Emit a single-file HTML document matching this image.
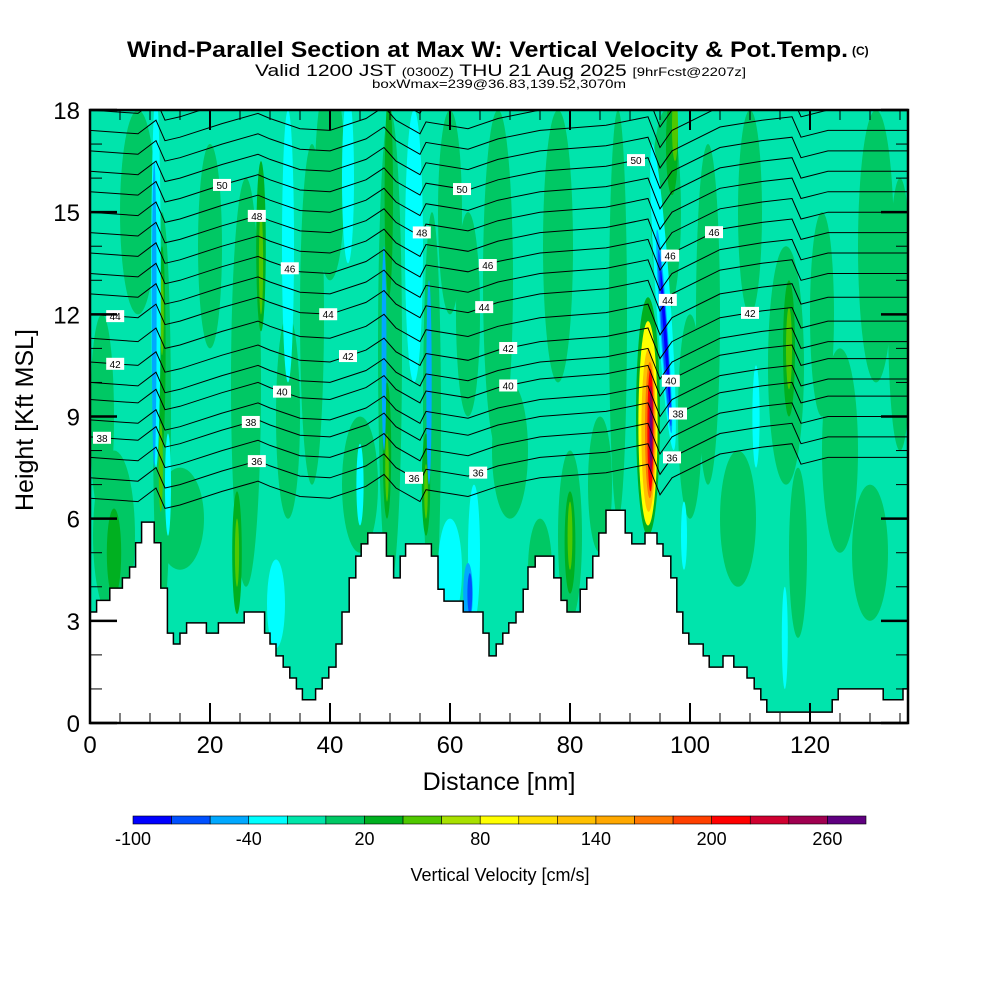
<!DOCTYPE html>
<html><head><meta charset="utf-8"><style>
html,body{margin:0;padding:0;background:#fff;}
svg{display:block;font-family:"Liberation Sans",sans-serif;}
</style></head><body>
<svg id="chart" width="1000" height="1000" viewBox="0 0 1000 1000" xmlns="http://www.w3.org/2000/svg">
<defs><clipPath id="plotclip"><rect x="90" y="110" width="818" height="613"/></clipPath></defs>
<g>
<text x="127" y="57" font-size="22" font-weight="bold" textLength="721" lengthAdjust="spacingAndGlyphs">Wind-Parallel Section at Max W: Vertical Velocity &amp; Pot.Temp.</text>
<text x="852" y="55" font-size="12" font-weight="bold">(C)</text>
<text x="255" y="76" font-size="17" textLength="491" lengthAdjust="spacingAndGlyphs">Valid 1200 JST <tspan font-size="12">(0300Z)</tspan> THU 21 Aug 2025 <tspan font-size="12">[9hrFcst@2207z]</tspan></text>
<text x="372" y="88" font-size="12" textLength="254" lengthAdjust="spacingAndGlyphs">boxWmax=239@36.83,139.52,3070m</text>
</g>
<rect x="90" y="110" width="818" height="613" fill="#00e4ac"/>
<g id="field" clip-path="url(#plotclip)"></g>
<g id="isen" clip-path="url(#plotclip)"></g>
<g id="terrain" clip-path="url(#plotclip)"></g>
<g id="labels" clip-path="url(#plotclip)"></g>
<rect x="90" y="110" width="818" height="613" fill="none" stroke="#000" stroke-width="2.5"/>
<g id="axes"></g>
<text x="499" y="790" font-size="25" text-anchor="middle">Distance [nm]</text>
<text transform="translate(33,420) rotate(-90)" font-size="25" text-anchor="middle">Height [Kft MSL]</text>
<g id="cbar"></g>
<text x="500" y="881" font-size="18" text-anchor="middle">Vertical Velocity [cm/s]</text>
</svg>
<script>
// ---- data ----
const terrainNm = [0,1.1,3.3,5.4,6.6,7.6,8.6,10.7,11.8,12.9,13.9,15,16.1,19.4,21.4,25.7,29.1,30,31,32.2,33.3,34.4,35.4,37.6,38.7,39.8,41,42,43.2,44.3,45.2,46.3,49.4,50.6,51.7,52.6,56.9,58,59,62.2,65.5,66.5,67.7,68.8,69.8,71,72.2,73,74.2,77.3,78.5,79.5,81.7,82.8,83.8,84.8,86,89.2,90.3,92.5,94.5,95.5,96.8,97.8,98.8,99.8,102.2,103.2,105.5,107.3,109.5,110.7,111.8,112.8,123.7,124.7,132.2,135.5];
const terrainKft = [3.26,3.6,3.96,4.26,4.58,5.29,5.9,5.29,3.96,2.64,2.32,2.64,2.94,2.64,2.94,3.26,2.64,2.32,1.97,1.64,1.32,1.0,0.68,1.0,1.32,1.64,2.32,3.26,4.26,4.9,5.26,5.58,4.9,4.26,4.9,5.26,4.9,3.93,3.58,3.26,2.64,1.97,2.32,2.64,2.94,3.26,3.93,4.58,4.9,4.26,3.6,3.26,3.93,4.26,4.9,5.58,6.25,5.58,5.26,5.58,5.26,4.9,4.26,3.26,2.64,2.32,1.97,1.64,1.97,1.64,1.32,1.0,0.68,0.32,0.68,1.0,0.68,1.0];
// velocity features: centre nm, centre kft, half-width nm, half-height kft, value cm/s, tilt deg
const featNm   = [4,12,26,37,50,57,68,80,88,96,103,116,131,20,75,60,130,118, 15,45,70,85,108,125,8,40,78,110,122,2,33,63,100,135, 4,12,24.5,28.5,49.5,49.8,56,80,97,116.5,93, 11.8,12,24.5,28.5,49.5,56,80,116.5,97.5, 11,13,31,33,43,54,60,64,95.5,111,115.8,99,45, 10.7,49,56.5,63,95.7, 63.3,95.8,95.9, 93,93.1,93.3,93.4,93.5,93.5];
const featKft  = [5.5,9,10,12,11,9,13,5.5,12,15,12,10.5,14,14,4.5,15,5,5, 6,7,8,7,6,8,15,16,14,15,12,9,9,12,9,12, 5,11,5,14,8,15.5,7,5.3,17,11,9, 7.5,12,5,13.5,7.5,6.8,5.5,11,17.5, 13,7,3.5,14,16,14,4.5,5,12.5,9,2.5,5.5,7, 12,11,10,3.8,11.5, 3.8,11.3,11.3, 8.8,8.6,8.6,8.6,8.6,8.5];
const featHw   = [3.5,1.5,2.5,2,2,1.5,2.5,2,1.5,2.5,2,3,3,2,2,2,3,1.5, 4,3,3,2,3,3,3,2.5,2.5,2,2,2,2,2,2,2, 1.2,0.6,0.8,0.8,0.7,0.7,0.7,0.9,1,1,2, 0.35,0.3,0.35,0.35,0.3,0.3,0.4,0.5,0.5, 0.8,0.5,1.5,1,1,1.5,2,1,1.2,0.6,0.5,0.5,0.6, 0.4,0.4,0.45,0.8,0.6, 0.4,0.45,0.25, 1.6,1.2,0.8,0.5,0.3,0.15];
const featHh   = [2.5,6,6,5,7,6,5,2.5,6,3,5,3.5,4,3,1.5,3,2,2.5, 1.5,2,2,2,2,3,3,3,4,3,3,3,3,3,3,4, 1.3,3,1.8,2.5,2,3,1.5,1.5,1.5,2,3.5, 1.3,1.2,1,1.5,1,0.8,1,1.2,1, 5.5,1.5,1.3,4,2.5,4,1.5,2,4.5,1.5,1.5,1,1.2, 4.5,3,3,0.9,3, 0.6,2.6,2, 3,2.4,2,1.8,1.3,0.8];
const featVal  = [10,10,10,10,10,10,10,10,10,10,10,10,10,10,10,10,10,10, 10,10,10,10,10,10,10,10,10,10,10,10,10,10,10,10, 30,30,30,30,30,30,30,30,30,30,30, 50,50,50,50,50,50,50,50,50, -30,-30,-30,-30,-30,-30,-30,-30,-30,-30,-30,-30,-30, -50,-50,-50,-50,-50, -70,-70,-90, 90,130,170,210,250,270];
const featTilt = [0,0,0,0,0,0,0,0,0,0,0,0,0,0,0,0,0,0, 0,0,0,0,0,0,0,0,0,0,0,0,0,0,0,0, 0,0,0,0,0,0,0,0,0,0,0, 0,0,0,0,0,0,0,0,0, 0,0,0,0,0,0,0,0,-4,0,0,0,0, 0,0,0,0,-4, 0,-4,-4, 0,0,0,0,0,0];
// isentropes
const thetaLevels = [35,36,37,38,39,40,41,42,43,44,45,46,47,48,49,50,51,52,53,54];
const thetaBaseKft = [6.6,7.2,7.8,8.4,8.9,9.5,10.0,10.6,11.3,12.0,12.6,13.2,13.8,14.4,15.0,15.6,16.2,16.8,17.4,18.0];
const dispNm  = [0,8,11,12.5,15,22,28,30,35,40,46,49,51,55,56,63,68,75,86,93,95,97,105,112,117,118.5,123,136.3];
const dispKft = [0,-0.1,0.3,-0.3,-0.2,0.2,0.5,0.35,0.05,0,0.35,0.7,0.3,-0.1,0.25,0.05,0.35,0.6,0.75,1.0,0.1,0.6,1.3,1.5,1.6,1.0,1.2,1.2];
const labelNm    = [22,27.8,33.3,4.2,39.7,4.2,43,32,26.8,2,27.8,62,55.3,66.3,65.7,69.7,69.7,64.7,54,91,96.7,104,96.3,96.8,98,97,110];
const labelTheta = [50,48,46,44,44,42,42,40,38,38,36,50,48,46,44,42,40,36,36,50,46,46,44,40,38,36,42];
// colour scale
const cbEdges = [-100,-80,-60,-40,-20,0,20,40,60,80,100,120,140,160,180,200,220,240,260,280];
const cbColors = ["#0000ff","#0050ff","#00a8ff","#00ffff","#00e6aa","#00c864","#00b020","#50c800","#a8e000","#ffff00","#ffe000","#ffc000","#ffa800","#ff7800","#ff4000","#ff0000","#d00030","#a00050","#600080"];
const cbTicks = [-100,-40,20,80,140,200,260];
const xTicks = [0,20,40,60,80,100,120];
const yTicks = [0,3,6,9,12,15,18];

// ---- axes functions ----
const X0=90,X1=908,Y0=723,Y1=110, XMAX=(908-90)/6;
const xs = nm => X0 + nm*(X1-X0)/XMAX;
const ys = k => Y0 - k*(Y0-Y1)/18;
const NS="http://www.w3.org/2000/svg";
function mk(tag, attrs, parent){const e=document.createElementNS(NS,tag);for(const k in attrs)e.setAttribute(k,attrs[k]);parent.appendChild(e);return e;}
function colorOf(v){for(let i=0;i<cbColors.length;i++){if(v<cbEdges[i+1])return cbColors[i];}return cbColors[cbColors.length-1];}

// field
const field=document.getElementById('field');
for(let i=0;i<featNm.length;i++){
  const cx=xs(featNm[i]), cy=ys(featKft[i]);
  const e=mk('ellipse',{cx:cx,cy:cy,rx:xs(featHw[i])-X0,ry:Y0-ys(featHh[i]),fill:colorOf(featVal[i]),transform:`rotate(${featTilt[i]} ${cx} ${cy})`},field);
  
  
}
// isentropes
function disp(nm){for(let i=0;i<dispNm.length-1;i++){if(nm<=dispNm[i+1]){const t=(nm-dispNm[i])/(dispNm[i+1]-dispNm[i]);return dispKft[i]+t*(dispKft[i+1]-dispKft[i]);}}return dispKft[dispKft.length-1];}
const isen=document.getElementById('isen');
thetaLevels.forEach((th,j)=>{
  let d='';
  dispNm.forEach((nm,i)=>{d+=(i?'L':'M')+xs(nm).toFixed(1)+','+ys(thetaBaseKft[j]+dispKft[i]).toFixed(1);});
  const p=mk('path',{d:d,fill:'none',stroke:'#000','stroke-width':1},isen);
  
  
});
// terrain
const ter=document.getElementById('terrain');
let td='M'+xs(0)+','+ys(0);
terrainNm.forEach((nm,i)=>{const nx=i<terrainNm.length-1?terrainNm[i+1]:XMAX;td+='L'+xs(nm).toFixed(1)+','+ys(terrainKft[i]).toFixed(1)+'L'+xs(nx).toFixed(1)+','+ys(terrainKft[i]).toFixed(1);});
td+='L'+xs(XMAX)+','+ys(0)+'Z';
const tp=mk('path',{d:td,fill:'#fff',stroke:'#000','stroke-width':1.5},ter);


// labels
const lab=document.getElementById('labels');
labelNm.forEach((nm,i)=>{
  const j=thetaLevels.indexOf(labelTheta[i]);
  const x=xs(nm), y=ys(thetaBaseKft[j]+disp(nm));
  const g=mk('g',{},lab);
  
  
  mk('rect',{x:x-9,y:y-6,width:18,height:12,fill:'#fff'},g);
  const t=mk('text',{x:x,y:y+4,'font-size':10,'text-anchor':'middle'},g);
  t.textContent=labelTheta[i];
});
// axes
const ax=document.getElementById('axes');
for(let v=0;v<=135;v+=5){
  const major=v%20===0, L=major?20:10, x=xs(v);
  mk('line',{x1:x,x2:x,y1:Y0,y2:Y0-L,stroke:'#000','stroke-width':major?2:1},ax);
  mk('line',{x1:x,x2:x,y1:Y1,y2:Y1+L,stroke:'#000','stroke-width':major?2:1},ax);
}
for(let v=0;v<=18;v++){
  const major=v%3===0, L=major?27:12, y=ys(v);
  mk('line',{x1:X0,x2:X0+L,y1:y,y2:y,stroke:'#000','stroke-width':major?2.5:1},ax);
  mk('line',{x1:X1,x2:X1-L,y1:y,y2:y,stroke:'#000','stroke-width':major?2.5:1},ax);
}
xTicks.forEach(v=>{const t=mk('text',{x:xs(v),y:753,'font-size':24,'text-anchor':'middle'},ax);t.textContent=v;
  
  });
yTicks.forEach(v=>{const t=mk('text',{x:80,y:ys(v)+9,'font-size':24,'text-anchor':'end'},ax);t.textContent=v;
  
  });
// colorbar
const cb=document.getElementById('cbar');
const CB0=133, CB1=866, cbx=v=>CB0+(v-cbEdges[0])*(CB1-CB0)/(cbEdges[cbEdges.length-1]-cbEdges[0]);
cbColors.forEach((c,i)=>{
  const r=mk('rect',{x:cbx(cbEdges[i]),y:816,width:cbx(cbEdges[i+1])-cbx(cbEdges[i]),height:8,fill:c,stroke:'#000','stroke-width':0.6},cb);
  
  
});
cbTicks.forEach(v=>{const t=mk('text',{x:cbx(v),y:845,'font-size':18,'text-anchor':'middle'},cb);t.textContent=v;
  
  });
</script>
</body></html>
